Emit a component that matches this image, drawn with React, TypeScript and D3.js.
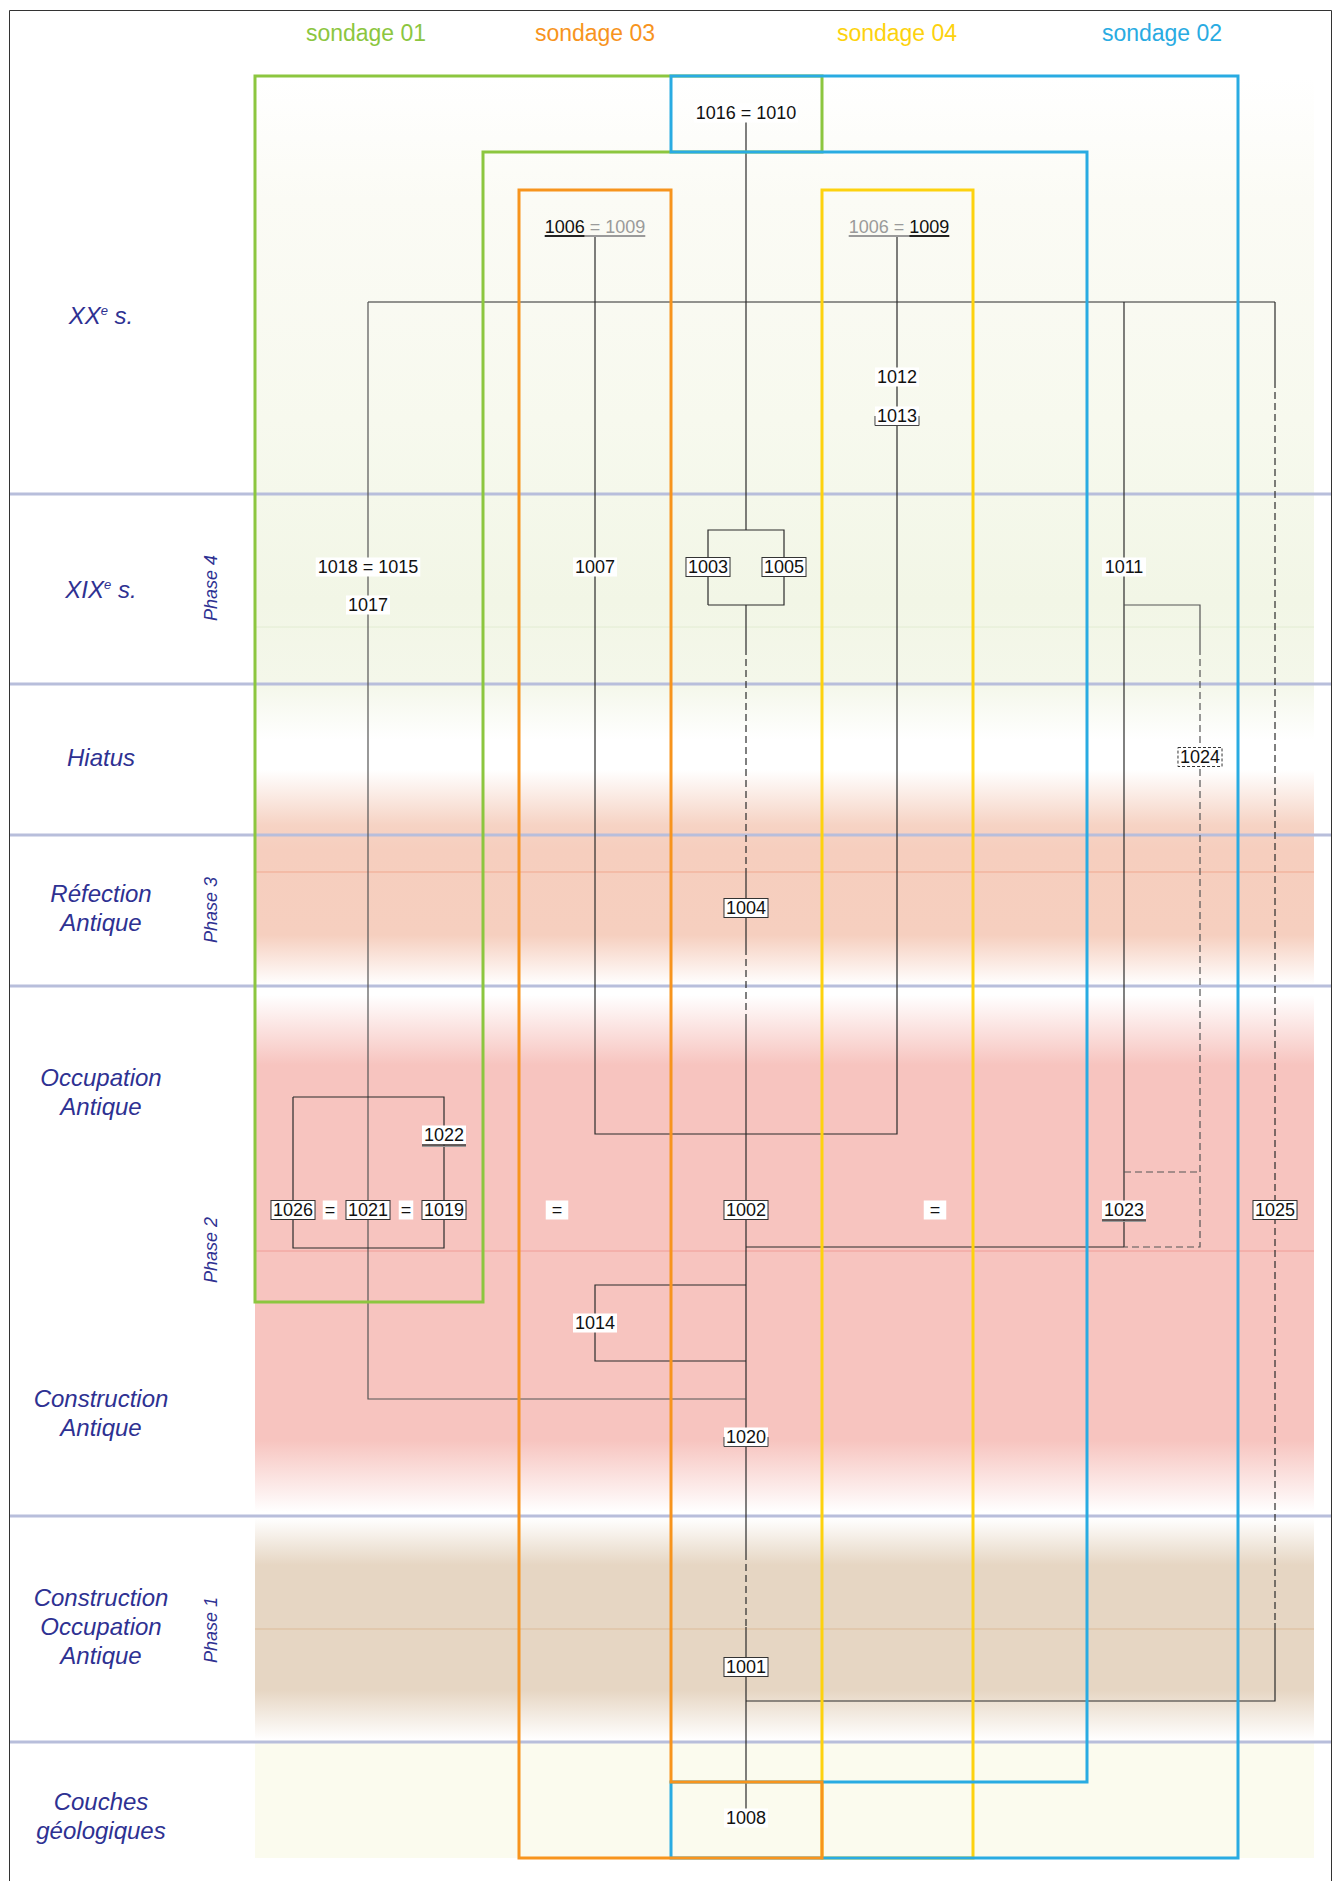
import React from 'react';
import * as d3 from 'd3';

// ---------- content ----------
const sondageNames = ['sondage 01', 'sondage 03', 'sondage 04', 'sondage 02'];
const sondageColors = ['#8cc63f', '#f7941d', '#fdd20e', '#29abe2'];

const periodLabels = [
  ['XX^e s.'],
  ['XIX^e s.'],
  ['Hiatus'],
  ['Réfection', 'Antique'],
  ['Occupation', 'Antique'],
  ['Construction', 'Antique'],
  ['Construction', 'Occupation', 'Antique'],
  ['Couches', 'géologiques'],
];
const phaseLabels = ['Phase 4', 'Phase 3', 'Phase 2', 'Phase 1'];

// stratigraphic units: label, column, row, kind
const units: { label: string; col: string; row: string; kind: string }[] = [
  { label: '1016 = 1010', col: 'main', row: 'r1016', kind: 'plain' },
  { label: '1012', col: 'c1012', row: 'r1012', kind: 'plain' },
  { label: '1013', col: 'c1012', row: 'r1013', kind: 'bracket' },
  { label: '1018 = 1015', col: 'c1021', row: 'r1018', kind: 'plain' },
  { label: '1017', col: 'c1021', row: 'r1017', kind: 'plain' },
  { label: '1007', col: 'c1007', row: 'r1018', kind: 'plain' },
  { label: '1003', col: 'c1003', row: 'r1018', kind: 'box' },
  { label: '1005', col: 'c1005', row: 'r1018', kind: 'box' },
  { label: '1011', col: 'c1011', row: 'r1018', kind: 'plain' },
  { label: '1024', col: 'c1024', row: 'r1024', kind: 'dashbox' },
  { label: '1004', col: 'main', row: 'r1004', kind: 'box' },
  { label: '1022', col: 'c1019', row: 'r1022', kind: 'under' },
  { label: '1026', col: 'c1026', row: 'r1002', kind: 'box' },
  { label: '=', col: 'eqA', row: 'r1002', kind: 'plain' },
  { label: '1021', col: 'c1021', row: 'r1002', kind: 'box' },
  { label: '=', col: 'eqB', row: 'r1002', kind: 'plain' },
  { label: '1019', col: 'c1019', row: 'r1002', kind: 'box' },
  { label: '=', col: 'eqL', row: 'r1002', kind: 'plainwide' },
  { label: '1002', col: 'main', row: 'r1002', kind: 'box' },
  { label: '=', col: 'eqR', row: 'r1002', kind: 'plainwide' },
  { label: '1023', col: 'c1011', row: 'r1002', kind: 'under' },
  { label: '1025', col: 'c1025', row: 'r1002', kind: 'box' },
  { label: '1014', col: 'c1007', row: 'r1014', kind: 'plain' },
  { label: '1020', col: 'main', row: 'r1020', kind: 'bracket' },
  { label: '1001', col: 'main', row: 'r1001', kind: 'box' },
  { label: '1008', col: 'main', row: 'r1008', kind: 'plain' },
];

// relations (polylines between grid points)
const relations: { pts: [string, string][]; dashed?: boolean; grey?: boolean }[] = [
  { pts: [['main', 'r1016'], ['main', 'brTop']] },
  { pts: [['c1003', 'brBot'], ['c1003', 'brTop'], ['c1005', 'brTop'], ['c1005', 'brBot'], ['c1003', 'brBot']] },
  { pts: [['main', 'brBot'], ['main', 'dashA']] },
  { pts: [['main', 'dashA'], ['main', 'solidB']], dashed: true },
  { pts: [['main', 'solidB'], ['main', 'dashB']] },
  { pts: [['main', 'dashB'], ['main', 'solidC']], dashed: true },
  { pts: [['main', 'solidC'], ['main', 'dashC']] },
  { pts: [['main', 'dashC'], ['main', 'solidD']], dashed: true },
  { pts: [['main', 'solidD'], ['main', 'r1008']] },
  { pts: [['c1021', 'top'], ['c1025', 'top']] },
  { pts: [['c1021', 'top'], ['c1021', 'h1399'], ['main', 'h1399']], grey: true },
  { pts: [['c1026', 'br2Top'], ['c1019', 'br2Top'], ['c1019', 'br2Bot'], ['c1026', 'br2Bot'], ['c1026', 'br2Top']] },
  { pts: [['c1007', 'uline'], ['c1007', 'h1134'], ['c1012', 'h1134'], ['c1012', 'uline']] },
  { pts: [['main', 'br3Top'], ['c1007', 'br3Top'], ['c1007', 'br3Bot'], ['main', 'br3Bot']] },
  { pts: [['c1011', 'top'], ['c1011', 'h1247']] },
  { pts: [['main', 'h1247'], ['c1011', 'h1247']] },
  { pts: [['c1011', 'r1017'], ['c1024', 'r1017'], ['c1024', 'dashA']], grey: true },
  { pts: [['c1024', 'dashA'], ['c1024', 'h1247'], ['c1011', 'h1247']], dashed: true, grey: true },
  { pts: [['c1011', 'h1172'], ['c1024', 'h1172']], dashed: true, grey: true },
  { pts: [['c1025', 'top'], ['c1025', 'dash1025']] },
  { pts: [['c1025', 'dash1025'], ['c1025', 'end1025']], dashed: true },
  { pts: [['c1025', 'end1025'], ['c1025', 'h1701'], ['main', 'h1701']] },
];

// ---------- layout ----------
const colKeys = ['c1026', 'eqA', 'c1021', 'eqB', 'c1019', 'eqL', 'c1007', 'c1003', 'main', 'c1005', 'c1012', 'eqR', 'c1011', 'c1024', 'c1025'];
const colPx = [293, 330, 368, 406, 444, 557, 595, 708, 746, 784, 897, 935, 1124, 1200, 1275];
const rowKeys = ['r1016', 'r1006', 'uline', 'top', 'r1012', 'dash1025', 'r1013', 'brTop', 'r1018', 'r1017', 'brBot', 'dashA', 'r1024',
  'solidB', 'r1004', 'dashB', 'solidC', 'br2Top', 'h1134', 'r1022', 'h1172', 'r1002', 'h1247', 'br2Bot', 'br3Top', 'r1014', 'br3Bot',
  'h1399', 'r1020', 'dashC', 'end1025', 'solidD', 'r1001', 'h1701', 'r1008'];
const rowPx = [113, 227, 236, 302, 377, 381, 416, 530, 567, 605, 605, 648, 757,
  870, 908, 948, 1021, 1097, 1134, 1135, 1172, 1210, 1247, 1248, 1285, 1323, 1361,
  1399, 1437, 1553, 1623, 1627, 1667, 1701, 1818];

const X = d3.scaleOrdinal<string, number>().domain(colKeys).range(colPx);
const Y = d3.scaleOrdinal<string, number>().domain(rowKeys).range(rowPx);

const dividerY = [494, 684, 835, 986, 1516, 1742];
const periodY = [315, 589, 757, 908, 1092, 1413, 1626, 1816];
const phaseY = [588, 910, 1250, 1630];
const headerX = [366, 595, 897, 1162];
const faintLines: [number, string][] = [[627, '#e2ecd2'], [872, '#f1a88f'], [1251, '#f09c96'], [1629, '#dcbb98']];

const bgTop = 76, bgBot = 1858;
const bgStops: [number, string][] = [
  [76, '#ffffff'], [200, '#fbfbf5'], [420, '#f7f9ee'], [494, '#f5f8eb'], [600, '#f2f6e6'], [684, '#f4f7ea'], [740, '#ffffff'],
  [770, '#ffffff'], [825, '#f6d3c4'], [850, '#f6cebe'], [935, '#f6cfbf'], [985, '#ffffff'],
  [995, '#ffffff'], [1065, '#f7c4bf'], [1440, '#f7c4bf'], [1512, '#ffffff'],
  [1518, '#ffffff'], [1565, '#e6d6c3'], [1690, '#e6d6c3'], [1740, '#ffffff'],
  [1743, '#fbfbee'], [1858, '#fbfbee'],
];

const frames: { color: number; pts: [number, number][] }[] = [
  { color: 2, pts: [[822, 190], [973, 190], [973, 1858], [822, 1858]] },
  { color: 0, pts: [[255, 76], [822, 76], [822, 152], [483, 152], [483, 1302], [255, 1302]] },
  { color: 3, pts: [[671, 76], [1238, 76], [1238, 1858], [671, 1858], [671, 1782], [1087, 1782], [1087, 152], [671, 152]] },
  { color: 1, pts: [[519, 190], [671, 190], [671, 1782], [822, 1782], [822, 1858], [519, 1858]] },
];

const FS = 18;
const tw = (s: string) => [...s].reduce((a, c) => a + (c === ' ' ? 0.278 : c === '=' ? 0.584 : 0.556), 0) * FS;
const INK = '#2b2b2b';
const BLUE = '#2e3192';

function Unit({ u }: { u: (typeof units)[number] }) {
  const cx = X(u.col), cy = Y(u.row);
  const w = tw(u.label);
  const h = 19;
  const pad = u.kind === 'plainwide' ? 6 : 2;
  const x0 = cx - w / 2 - pad, x1 = cx + w / 2 + pad;
  const y0 = cy - h / 2, y1 = cy + h / 2;
  return (
    <g>
      <rect x={x0} y={y0} width={x1 - x0} height={h} fill="#fff"
        stroke={u.kind === 'box' || u.kind === 'dashbox' ? '#333' : 'none'}
        strokeWidth={1} strokeDasharray={u.kind === 'dashbox' ? '3,2' : undefined} />
      {u.kind === 'under' && (
        <g>
          <line x1={x0} x2={x1} y1={y1 + 0.5} y2={y1 + 0.5} stroke="#333" strokeWidth={1.5} />
          <line x1={x0} x2={x1} y1={y1 + 2} y2={y1 + 2} stroke="#999" strokeWidth={1} />
        </g>
      )}
      {u.kind === 'bracket' && (
        <path d={`M${x0},${cy}V${y1}H${x1}V${cy}`} fill="none" stroke="#444" strokeWidth={1} />
      )}
      <text x={cx} y={cy} dy="0.36em" textAnchor="middle" fontSize={FS} fill="#111">{u.label}</text>
    </g>
  );
}

function DoubleUnit({ cx, dark }: { cx: number; dark: 'left' | 'right' }) {
  const a = '1006', b = ' = ', c = '1009';
  const total = tw(a + b + c);
  const x0 = cx - total / 2;
  const wa = tw(a), wb = tw(b);
  const y = Y('r1006');
  const uy = Y('uline');
  const grey = '#9a9a9a';
  const leftCol = dark === 'left' ? '#111' : grey;
  const rightCol = dark === 'right' ? '#111' : grey;
  return (
    <g>
      <text x={x0} y={y} dy="0.36em" fontSize={FS}>
        <tspan fill={leftCol}>{a}</tspan>
        <tspan fill={grey}>{b}</tspan>
        <tspan fill={rightCol}>{c}</tspan>
      </text>
      {dark === 'left' ? (
        <g>
          <line x1={x0} x2={x0 + wa} y1={uy} y2={uy} stroke="#222" strokeWidth={2} />
          <line x1={x0 + wa} x2={x0 + total} y1={uy} y2={uy} stroke={grey} strokeWidth={2} />
        </g>
      ) : (
        <g>
          <line x1={x0} x2={x0 + wa + wb} y1={uy} y2={uy} stroke={grey} strokeWidth={2} />
          <line x1={x0 + wa + wb} x2={x0 + total} y1={uy} y2={uy} stroke="#222" strokeWidth={2} />
        </g>
      )}
    </g>
  );
}

function PeriodLabel({ lines, cy }: { lines: string[]; cy: number }) {
  const lh = 29;
  const start = cy - ((lines.length - 1) * lh) / 2;
  return (
    <g>
      {lines.map((ln, i) => {
        const y = start + i * lh;
        if (ln.includes('^')) {
          const [main, rest] = ln.split('^');
          const sup = rest[0];
          const tail = rest.slice(1);
          return (
            <text key={i} x={101} y={y} dy="0.36em" textAnchor="middle" fontSize={24} fontStyle="italic" fill={BLUE}>
              {main}
              <tspan fontSize={13} dy={-9}>{sup}</tspan>
              <tspan dy={9}>{tail}</tspan>
            </text>
          );
        }
        return (
          <text key={i} x={101} y={y} dy="0.36em" textAnchor="middle" fontSize={24} fontStyle="italic" fill={BLUE}>{ln}</text>
        );
      })}
    </g>
  );
}

export default function App() {
  const line = d3.line<[string, string]>().x((p) => X(p[0])).y((p) => Y(p[1]));
  const framePath = d3.line<[number, number]>().curve(d3.curveLinearClosed);
  const span = bgBot - bgTop;
  return (
    <div style={{ position: 'absolute', left: 0, top: 0 }}>
      <svg width={1333} height={1881} style={{ display: 'block', background: '#fff' }}
        fontFamily="'Liberation Sans', Arial, Helvetica, sans-serif">
        <defs>
          <linearGradient id="bandGrad" x1="0" y1={bgTop} x2="0" y2={bgBot} gradientUnits="userSpaceOnUse">
            {bgStops.map(([y, c], i) => (
              <stop key={i} offset={(y - bgTop) / span} stopColor={c} />
            ))}
          </linearGradient>
        </defs>
        <path d="M9.5,1881V10.5H1331.5V1881" fill="none" stroke="#333" strokeWidth={1} />
        <rect x={255} y={bgTop} width={1059} height={span} fill="url(#bandGrad)" />
        {faintLines.map(([y, c], i) => (
          <line key={i} x1={255} x2={1314} y1={y} y2={y} stroke={c} strokeWidth={1} />
        ))}
        {dividerY.map((y, i) => (
          <line key={i} x1={10} x2={1331} y1={y} y2={y} stroke="#b8bedb" strokeWidth={3} />
        ))}
        {relations.map((r, i) => (
          <path key={i} d={line(r.pts) || ''} fill="none" stroke={r.grey ? '#555' : INK}
            strokeWidth={1.2} strokeDasharray={r.dashed ? '7,4' : undefined} />
        ))}
        {frames.map((f, i) => (
          <path key={i} d={framePath(f.pts) || ''} fill="none" stroke={sondageColors[f.color]} strokeWidth={3} />
        ))}
        {units.map((u, i) => <Unit key={i} u={u} />)}
        <DoubleUnit cx={X('c1007')} dark="left" />
        <DoubleUnit cx={X('c1012') + 2} dark="right" />
        {sondageNames.map((s, i) => (
          <text key={s} x={headerX[i]} y={33} dy="0.36em" textAnchor="middle" fontSize={23} fill={sondageColors[i]}>{s}</text>
        ))}
        {periodLabels.map((p, i) => <PeriodLabel key={i} lines={p} cy={periodY[i]} />)}
        {phaseLabels.map((p, i) => (
          <text key={p} transform={`translate(211,${phaseY[i]}) rotate(-90)`} dy="0.36em" textAnchor="middle"
            fontSize={18} fontStyle="italic" fill={BLUE}>{p}</text>
        ))}
      </svg>
    </div>
  );
}
